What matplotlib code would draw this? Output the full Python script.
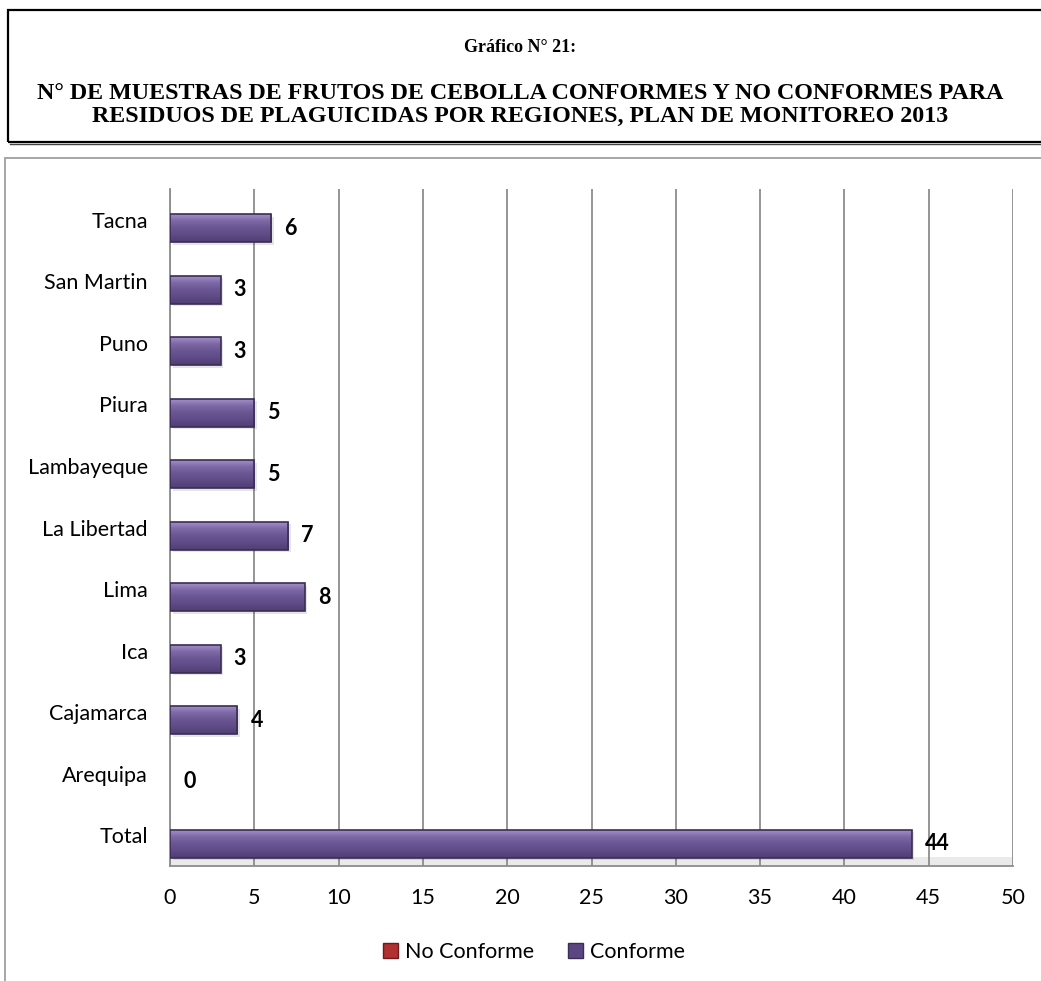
import numpy as np
import matplotlib
matplotlib.use("Agg")
import matplotlib.pyplot as plt
from matplotlib.patches import Rectangle, Patch
from matplotlib.colors import LinearSegmentedColormap

# Data
regions = ["Total", "Arequipa", "Cajamarca", "Ica", "Lima", "La Libertad",
           "Lambayeque", "Piura", "Puno", "San Martin", "Tacna"]
conforme = [44, 0, 4, 3, 8, 7, 5, 5, 3, 3, 6]
no_conforme = [0, 0, 0, 0, 0, 0, 0, 0, 0, 0, 0]
x_ticks = [0, 5, 10, 15, 20, 25, 30, 35, 40, 45, 50]

title_1 = "Gráfico N° 21:"
title_2 = ("N° DE MUESTRAS DE FRUTOS DE CEBOLLA CONFORMES Y NO CONFORMES PARA\n"
           "RESIDUOS DE PLAGUICIDAS POR REGIONES, PLAN DE MONITOREO 2013")

W, H = 1041, 981
fig = plt.figure(figsize=(W / 100, H / 100), dpi=100)
fig.patch.set_facecolor("white")

def fx(px):
    return px / W

def fy(py):
    return 1 - py / H

FONT = "Lato"
FS = 15.5

# Title box
fig.add_artist(Rectangle((fx(8), fy(142)), fx(1050) - fx(8), fy(10) - fy(142),
                         transform=fig.transFigure, fill=False,
                         edgecolor="black", linewidth=1.6))
fig.add_artist(plt.Line2D([fx(10), 1.0], [fy(144), fy(144)],
                          transform=fig.transFigure, color="#444444", linewidth=1.0))
fig.text(0.5, fy(48), title_1, ha="center", va="center",
         fontfamily="Liberation Serif", fontweight="bold", fontsize=13)
fig.text(0.5, fy(105), title_2, ha="center", va="center",
         fontfamily="Liberation Serif", fontweight="bold", fontsize=17.3,
         linespacing=1.15)

# Chart area frame
fig.add_artist(Rectangle((fx(5), fy(1000)), fx(1060) - fx(5), fy(158) - fy(1000),
                         transform=fig.transFigure, fill=False,
                         edgecolor="#A6A6A6", linewidth=1.4))

ax = fig.add_axes([fx(170), fy(866), fx(1013) - fx(170), fy(189) - fy(866)])
ax.set_xlim(0, 50)
ax.set_ylim(-0.5, len(regions) - 0.5)

ypos = np.arange(len(regions))
bar_h = 0.455
shift = 0.135

# Floor of the plot
ax.add_patch(Rectangle((0, 0), 1, 9 / 677, transform=ax.transAxes,
                       facecolor="#EAEAEA", edgecolor="none", zorder=0))

# Gridlines
ax.set_xticks(x_ticks)
ax.grid(axis="x", color="#8C8C8C", linewidth=1.3, zorder=1)
ax.set_axisbelow(True)

# Bar shadows
ax.barh(ypos - shift - 0.04, conforme, height=bar_h, left=0.15,
        color="#000000", alpha=0.10, zorder=2, linewidth=0)

# Series
ax.barh(ypos + shift, no_conforme, height=bar_h, color="#B23030",
        linewidth=0, zorder=3, label="No Conforme")
bars = ax.barh(ypos - shift, conforme, height=bar_h, color="#6A5592",
               linewidth=0, zorder=3, label="Conforme")

# Bevel shading on the bars
bevel = LinearSegmentedColormap.from_list(
    "bevel", ["#4F3E72", "#5F4B86", "#6B5694", "#7F6AA8", "#A794CA"])
grad = np.linspace(0, 1, 64).reshape(-1, 1)
for b in bars:
    w = b.get_width()
    if w <= 0:
        continue
    y0 = b.get_y()
    im = ax.imshow(grad, cmap=bevel, aspect="auto", origin="lower",
                   extent=(0, w, y0, y0 + b.get_height()), zorder=3.5,
                   interpolation="bilinear")
    im.set_clip_path(b)
    ax.add_patch(Rectangle((0, y0), w, b.get_height(), fill=False,
                           edgecolor="#3B2D55", linewidth=1.2, zorder=3.6))

# Value labels
for y, v in zip(ypos, conforme):
    ax.annotate(f"{v}", xy=(v, y - shift), xytext=(9.5, 0),
                textcoords="offset points", ha="left", va="center",
                fontfamily=FONT, fontweight="bold", fontsize=FS, color="black")

ax.set_yticks(ypos)
ax.set_yticklabels(regions)
ax.tick_params(axis="both", length=0, labelsize=FS)
ax.tick_params(axis="y", pad=16)
ax.tick_params(axis="x", pad=16)
for lab in ax.get_xticklabels() + ax.get_yticklabels():
    lab.set_fontfamily(FONT)

for s in ["top", "right"]:
    ax.spines[s].set_visible(False)
for s in ["left", "bottom"]:
    ax.spines[s].set_color("#8C8C8C")
    ax.spines[s].set_linewidth(1.3)

handles = [Patch(facecolor="#B23030", edgecolor="#6E1A1A", label="No Conforme"),
           Patch(facecolor="#5B4682", edgecolor="#3B2D55", label="Conforme")]
fig.legend(handles=handles, loc="center", bbox_to_anchor=(fx(534), fy(952)),
           ncol=2, frameon=False, prop={"family": FONT, "size": FS},
           handlelength=0.7, handleheight=0.7, handletextpad=0.3,
           columnspacing=1.6)

fig.savefig("out.png", dpi=100, facecolor="white")
